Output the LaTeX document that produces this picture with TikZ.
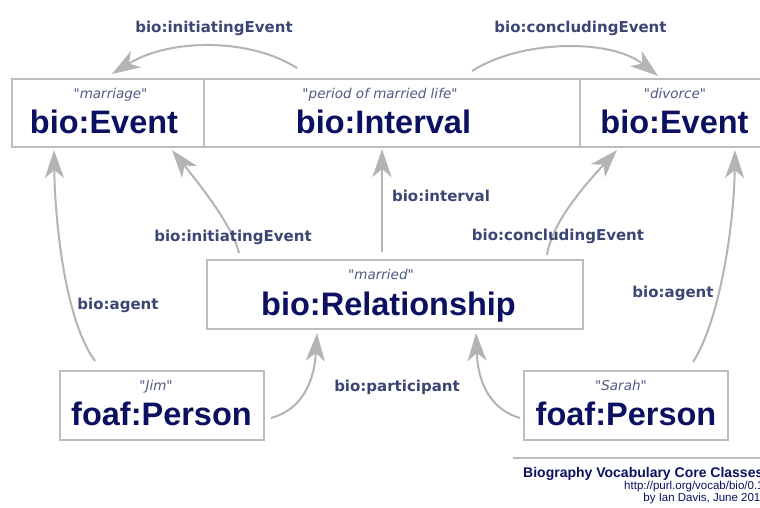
\documentclass[tikz,border=0pt]{standalone}
\usepackage{fontspec}
\setmainfont{Liberation Sans}
\newfontfamily\lblfont{DejaVu Sans}
\usetikzlibrary{arrows.meta,calc}
\definecolor{navy}{HTML}{0B1160}
\definecolor{lblc}{HTML}{3C4674}
\definecolor{qc}{HTML}{505A85}
\definecolor{edgec}{HTML}{B4B4B4}
\definecolor{boxc}{HTML}{BDBDBD}
\begin{document}
\begin{tikzpicture}[x=1pt,y=-1pt,
  box/.style={draw=boxc, line width=2pt, inner sep=0pt, outer sep=0pt, fill=white},
  title/.style={font=\fontsize{32.5}{32.5}\selectfont\bfseries, text=navy, anchor=base, inner sep=0pt},
  quote/.style={font=\lblfont\fontsize{13.5}{13.5}\selectfont\itshape, text=qc, anchor=base, inner sep=0pt},
  elabel/.style={font=\lblfont\fontsize{15}{15}\selectfont\bfseries, text=lblc, inner sep=0pt},
  arr/.style={draw=edgec, line width=2pt, -{Stealth[length=28pt,width=19pt,inset=8pt]}},
]
\useasboundingbox (0,0) rectangle (760,507);
\fill[white] (0,0) rectangle (760,507);

% boxes
\node[box, minimum width=192pt, minimum height=68pt] (ev1) at (108,113) {};
\node[box, minimum width=376pt, minimum height=68pt] (int) at (392,113) {};
\node[box, minimum width=189pt, minimum height=68pt] (ev2) at (674.5,113) {};
\node[box, minimum width=376pt, minimum height=69pt] (rel) at (395,294.5) {};
\node[box, minimum width=204pt, minimum height=69pt] (jim) at (162,405.5) {};
\node[box, minimum width=204pt, minimum height=69pt] (sarah) at (626,405.5) {};

% box texts
\node[quote] (q1) at (110.5,98) {"marriage"};
\node[title] (t1) at (104,133) {bio:Event};
\node[quote] (q2) at (380,98) {"period of married life"};
\node[title] (t2) at (383.5,133) {bio:Interval};
\node[quote] (q3) at (675,98) {"divorce"};
\node[title] (t3) at (674.5,133) {bio:Event};
\node[quote] (q4) at (381,279) {"married"};
\node[title] (t4) at (388.5,315) {bio:Relationship};
\node[quote] (q5) at (156,390) {"Jim"};
\node[title] (t5) at (161.5,425) {foaf:Person};
\node[quote] (q6) at (621,390) {"Sarah"};
\node[title] (t6) at (626,425) {foaf:Person};

% connectors
\draw[arr] ($(int.north west)+(93,-11)$) .. controls +(-47,-30) and +(58,-36) .. ($(ev1.north)+(4,-5)$);
\draw[arr] ($(int.north east)+(-108,-8)$) .. controls +(48,-31) and +(-48,-38) .. ($(ev2.north west)+(78,-3)$);
\draw[arr] ($(rel.north west)+(32,-7)$) .. controls +(-7,-28) and +(28,35) .. ($(ev1.south east)+(-32,3)$);
\draw[arr] ($(rel.north west)+(175,-8)$) -- ($(int.south west)+(178,2)$);
\draw[arr] ($(rel.north east)+(-36,-5)$) .. controls +(5,-33) and +(-32,35) .. ($(ev2.south west)+(37,3)$);
\draw[arr] ($(jim.north west)+(35,-10)$) .. controls +(-30,-41) and +(1,72) .. ($(ev1.south west)+(42,3)$);
\draw[arr] ($(sarah.north east)+(-35,-9)$) .. controls +(27,-42) and +(-1,75) .. ($(ev2.south west)+(155,3)$);
\draw[arr] ($(jim.east)+(7,12.5)$) .. controls +(29,-8) and +(-3,52) .. ($(rel.south west)+(110,4)$);
\draw[arr] ($(sarah.west)+(-4,12.5)$) .. controls +(-28,-8) and +(2,52) .. ($(rel.south east)+(-107,4)$);

% edge labels
\node[elabel] (l1) at (214,28) {bio:initiatingEvent};
\node[elabel] (l2) at (580.5,28) {bio:concludingEvent};
\node[elabel] (l3) at (233,237) {bio:initiatingEvent};
\node[elabel] (l4) at (441,195.5) {bio:interval};
\node[elabel] (l5) at (558,236.5) {bio:concludingEvent};
\node[elabel] (l6) at (118,305.5) {bio:agent};
\node[elabel] (l7) at (673,293.5) {bio:agent};
\node[elabel] (l8) at (397,387) {bio:participant};

% footer
\coordinate (fa) at (513,458);
\coordinate (fb) at (770,458);
\draw[draw=boxc, line width=1.5pt] (fa) -- (fb);
\node[anchor=base west, inner sep=0pt, font=\fontsize{14}{14}\selectfont\bfseries, text=navy] (f1) at (523,477) {Biography Vocabulary Core Classes};
\node[anchor=base east, inner sep=0pt, font=\fontsize{11.5}{11.5}\selectfont, text=navy] (f2) at (767,489.5) {http://purl.org/vocab/bio/0.1/};
\node[anchor=base east, inner sep=0pt, font=\fontsize{11.5}{11.5}\selectfont, text=navy] (f3) at (767,501) {by Ian Davis, June 2010};
\end{tikzpicture}
\end{document}
